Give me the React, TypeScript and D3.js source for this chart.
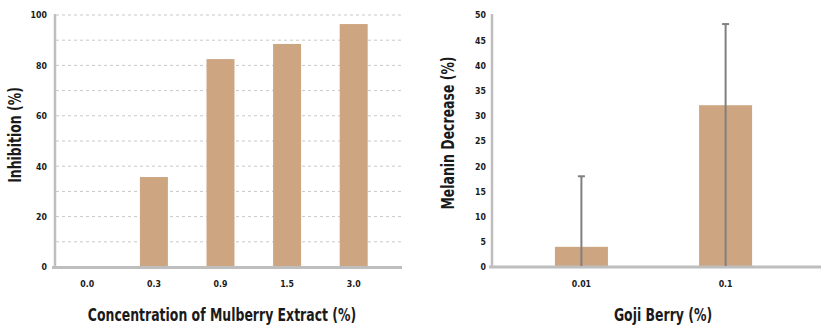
import React from "react";
import * as d3 from "d3";

const W = 821;
const H = 326;

// Left chart data
const mulberryCategories = ["0.0", "0.3", "0.9", "1.5", "3.0"];
const mulberryInhibition = [0, 35.7, 82.5, 88.5, 96.4];
const leftTicks = [0, 20, 40, 60, 80, 100];
const leftGrid = [10, 20, 30, 40, 50, 60, 70, 80, 90, 100];

// Right chart data
const gojiCategories = ["0.01", "0.1"];
const gojiMelanin = [4.0, 32.1];
const gojiErrTop = [18.0, 48.2];
const gojiErrBottom = [0, 0];
const rightTicks = [0, 5, 10, 15, 20, 25, 30, 35, 40, 45, 50];

const BAR = "#CDA581";
const AXIS = "#BEBEBE";
const FONT = "'DejaVu Sans Condensed', 'DejaVu Sans', Arial, sans-serif";
const TEXT = "#1a1a1a";

function T(props: { x: number; y: number; rotate?: number; sx?: number; size: number; anchor?: string; dy?: string; children: React.ReactNode }) {
  const { x, y, rotate = 0, sx = 1, size, anchor = "middle", dy, children } = props;
  return (
    <text
      transform={`translate(${x},${y}) rotate(${rotate}) scale(${sx},1)`}
      textAnchor={anchor}
      dy={dy}
      fontFamily={FONT}
      fontWeight="bold"
      fontSize={size}
      fill={TEXT}
    >
      {children}
    </text>
  );
}

export default function App() {
  const top = 15;
  const base = 267;

  // Left
  const lx0 = 55;
  const lx1 = 402;
  const xL = d3.scaleBand<string>().domain(mulberryCategories).range([54, 387]).paddingInner(0.58).paddingOuter(0.29);
  const yL = d3.scaleLinear().domain([0, 100]).range([base, top]);

  // Right
  const rx0 = 492;
  const xR = d3.scalePoint<string>().domain(gojiCategories).range([492, 815]).padding(0.62);
  const yR = d3.scaleLinear().domain([0, 50]).range([base, top]);
  const rBarW = 53;

  const tickSize = 9.5;
  const tickSx = 0.92;
  const titleSize = 17;
  const titleSx = 0.815;

  return (
    <svg width={W} height={H} style={{ position: "absolute", left: 0, top: 0, background: "#fff" }}>
      {/* Left gridlines */}
      {leftGrid.map((t) => (
        <line key={"g" + t} x1={lx0 + 1} x2={lx1} y1={yL(t)} y2={yL(t)} stroke="#C8C8C8" strokeWidth={1} strokeDasharray="3,3" />
      ))}
      {/* Left bars */}
      {mulberryCategories.map((c, i) =>
        mulberryInhibition[i] > 0 ? (
          <rect key={c} x={xL(c)} y={yL(mulberryInhibition[i])} width={xL.bandwidth()} height={base - yL(mulberryInhibition[i])} fill={BAR} />
        ) : null
      )}
      {/* Left axes */}
      <line x1={lx0} x2={lx0} y1={top - 1} y2={base} stroke={AXIS} strokeWidth={2.5} />
      <line x1={52} x2={lx1} y1={base + 0.5} y2={base + 0.5} stroke={AXIS} strokeWidth={3} />
      {leftTicks.map((t) => (
        <T key={"lt" + t} x={47} y={yL(t)} dy="0.35em" anchor="end" size={tickSize} sx={tickSx}>
          {t}
        </T>
      ))}
      {mulberryCategories.map((c) => (
        <T key={"lc" + c} x={(xL(c) as number) + xL.bandwidth() / 2} y={287} size={tickSize} sx={tickSx}>
          {c}
        </T>
      ))}
      <T x={222} y={321} size={titleSize} sx={titleSx}>
        Concentration of Mulberry Extract (%)
      </T>
      <T x={21} y={135} rotate={-90} size={titleSize} sx={titleSx}>
        Inhibition (%)
      </T>

      {/* Right bars */}
      {gojiCategories.map((c, i) => (
        <rect key={c} x={(xR(c) as number) - rBarW / 2} y={yR(gojiMelanin[i])} width={rBarW} height={base - yR(gojiMelanin[i])} fill={BAR} />
      ))}
      {/* Right axes */}
      <line x1={rx0} x2={rx0} y1={top - 1} y2={base} stroke={AXIS} strokeWidth={2.5} />
      <line x1={489} x2={821} y1={base} y2={base} stroke={AXIS} strokeWidth={3} />
      {/* Error bars */}
      {gojiCategories.map((c, i) => {
        const cx = xR(c) as number;
        return (
          <g key={"e" + c}>
            <line x1={cx} x2={cx} y1={yR(gojiErrTop[i])} y2={yR(gojiErrBottom[i]) - 1} stroke="#7F7F7F" strokeWidth={2} />
            <line x1={cx - 3.5} x2={cx + 3.5} y1={yR(gojiErrTop[i])} y2={yR(gojiErrTop[i])} stroke="#7F7F7F" strokeWidth={2} />
          </g>
        );
      })}
      {rightTicks.map((t) => (
        <T key={"rt" + t} x={486} y={yR(t)} dy="0.35em" anchor="end" size={tickSize} sx={tickSx}>
          {t}
        </T>
      ))}
      {gojiCategories.map((c) => (
        <T key={"rc" + c} x={xR(c) as number} y={287} size={tickSize} sx={tickSx}>
          {c}
        </T>
      ))}
      <T x={663} y={321} size={titleSize} sx={titleSx}>
        Goji Berry (%)
      </T>
      <T x={454} y={133} rotate={-90} size={titleSize} sx={titleSx}>
        Melanin Decrease (%)
      </T>
    </svg>
  );
}
